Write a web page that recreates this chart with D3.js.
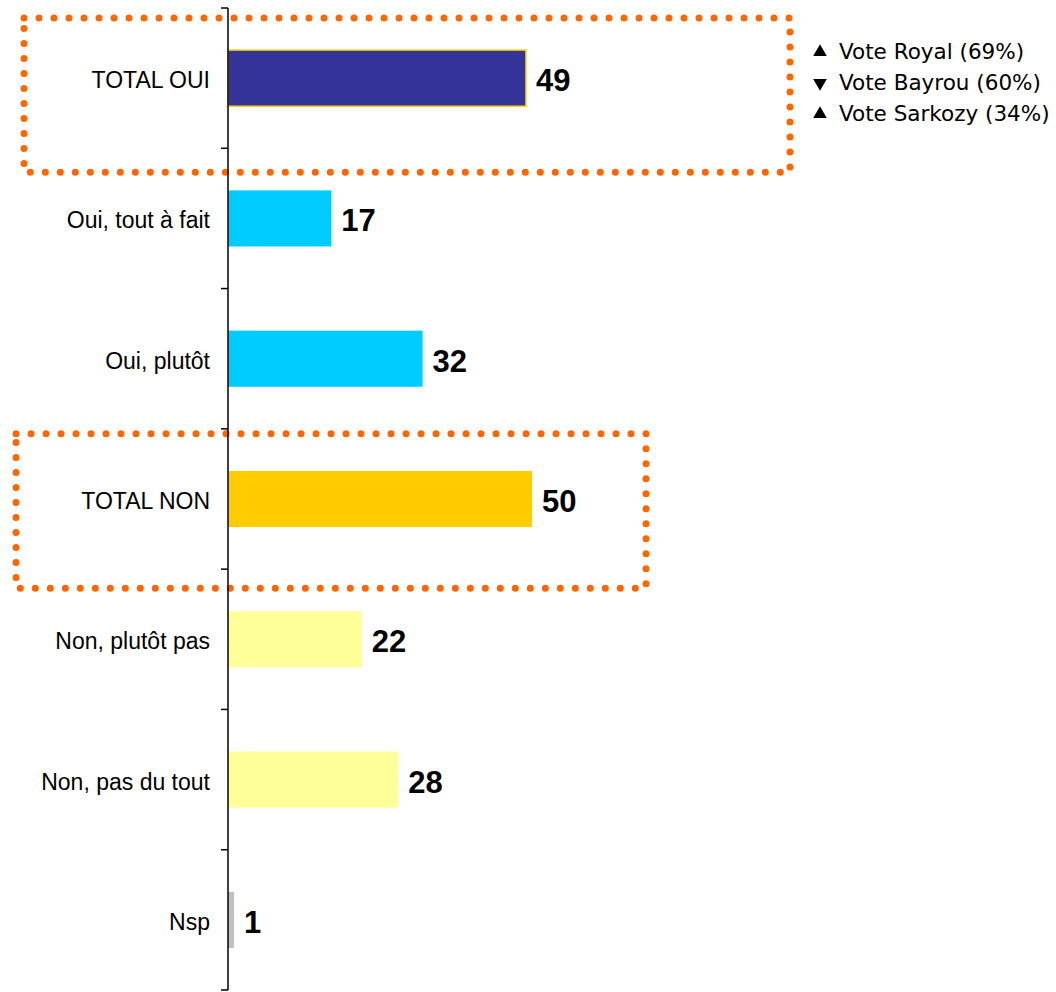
<!DOCTYPE html>
<html>
<head>
<meta charset="utf-8">
<script src="https://cdn.jsdelivr.net/npm/d3@7"></script>
<style>
  body { margin: 0; background: #fff; }
  .cat { font-family: "Liberation Sans", Arial, sans-serif; font-size: 23px; fill: #000; }
  .val { font-family: "Liberation Sans", Arial, sans-serif; font-size: 31px; font-weight: bold; fill: #000; }
  .leg { font-family: "DejaVu Sans", Verdana, sans-serif; font-size: 21.5px; fill: #000; }
</style>
</head>
<body>
<script>
var width = 1056,
    height = 992;

// data
var categories = ["TOTAL OUI", "Oui, tout à fait", "Oui, plutôt", "TOTAL NON", "Non, plutôt pas", "Non, pas du tout", "Nsp"];
var values = [49, 17, 32, 50, 22, 28, 1];
var barColors = ["#333399", "#00CCFF", "#00CCFF", "#FFCC00", "#FFFF99", "#FFFF99", "#C0C0C0"];
var legendLabels = ["Vote Royal (69%)", "Vote Bayrou (60%)", "Vote Sarkozy (34%)"];
var legendDir = ["up", "down", "up"];
var boxedCats = ["TOTAL OUI", "TOTAL NON"];

var axisX = 228;

var svg = d3.select("body").append("svg")
    .attr("width", width)
    .attr("height", height);

var x = d3.scaleLinear()
    .domain([0, 100])
    .range([axisX, axisX + 608]);

var y = d3.scaleBand()
    .domain(categories)
    .range([8, 990])
    .paddingInner(0.6)
    .paddingOuter(0.3);

var step = y.step();
var bandTop = function(c) { return y(c) - y.paddingOuter() * step; };

// dotted boxes round the totals
var boxRight = [790, 646];
var boxLeft = [24, 16];
boxedCats.forEach(function(c, i) {
  var top = bandTop(c) + (i == 0 ? 10 : 5);
  svg.append("rect")
      .attr("x", boxLeft[i])
      .attr("y", top)
      .attr("width", boxRight[i] - boxLeft[i])
      .attr("height", step + 14)
      .attr("fill", "none")
      .attr("stroke", "#FF6600")
      .attr("stroke-width", 7)
      .attr("stroke-linecap", "round")
      .attr("stroke-dasharray", "0 15");
});

// bars
svg.append("g").selectAll("rect")
    .data(categories)
  .enter().append("rect")
    .attr("x", x(0))
    .attr("y", d => y(d))
    .attr("width", (d, i) => x(values[i]) - x(0))
    .attr("height", y.bandwidth())
    .attr("fill", (d, i) => barColors[i])
    .attr("stroke", (d, i) => i == 0 ? "#FFCC00" : "none")
    .attr("stroke-width", 1.5);

// value labels
svg.append("g").selectAll("text")
    .data(categories)
  .enter().append("text")
    .attr("class", "val")
    .attr("x", (d, i) => x(values[i]) + 10)
    .attr("y", d => y(d) + y.bandwidth() / 2 + 13)
    .text((d, i) => values[i]);

// category labels
svg.append("g").selectAll("text")
    .data(categories)
  .enter().append("text")
    .attr("class", "cat")
    .attr("text-anchor", "end")
    .attr("x", axisX - 18)
    .attr("y", d => y(d) + y.bandwidth() / 2 + 10)
    .text(d => d);

// axis line and ticks between bands
var tickPos = d3.range(categories.length + 1).map(i => 8 + i * step);
svg.append("line")
    .attr("x1", axisX).attr("x2", axisX)
    .attr("y1", tickPos[0]).attr("y2", tickPos[tickPos.length - 1])
    .attr("stroke", "#000")
    .attr("stroke-width", 1.5);
svg.append("g").selectAll("line")
    .data(tickPos)
  .enter().append("line")
    .attr("x1", axisX - 7).attr("x2", axisX)
    .attr("y1", d => d).attr("y2", d => d)
    .attr("stroke", "#000")
    .attr("stroke-width", 1.5);

// legend
var leg = svg.append("g").attr("transform", "translate(820,52)");
var tri = d3.symbol().type(d3.symbolTriangle).size(80);
legendLabels.forEach(function(t, i) {
  leg.append("path")
      .attr("d", tri)
      .attr("transform", "translate(0," + (i * 31) + ")" + (legendDir[i] == "down" ? " rotate(180)" : ""))
      .attr("fill", "#000");
  leg.append("text")
      .attr("class", "leg")
      .attr("x", 19)
      .attr("y", i * 31 + 7)
      .text(t);
});
</script>
</body>
</html>
